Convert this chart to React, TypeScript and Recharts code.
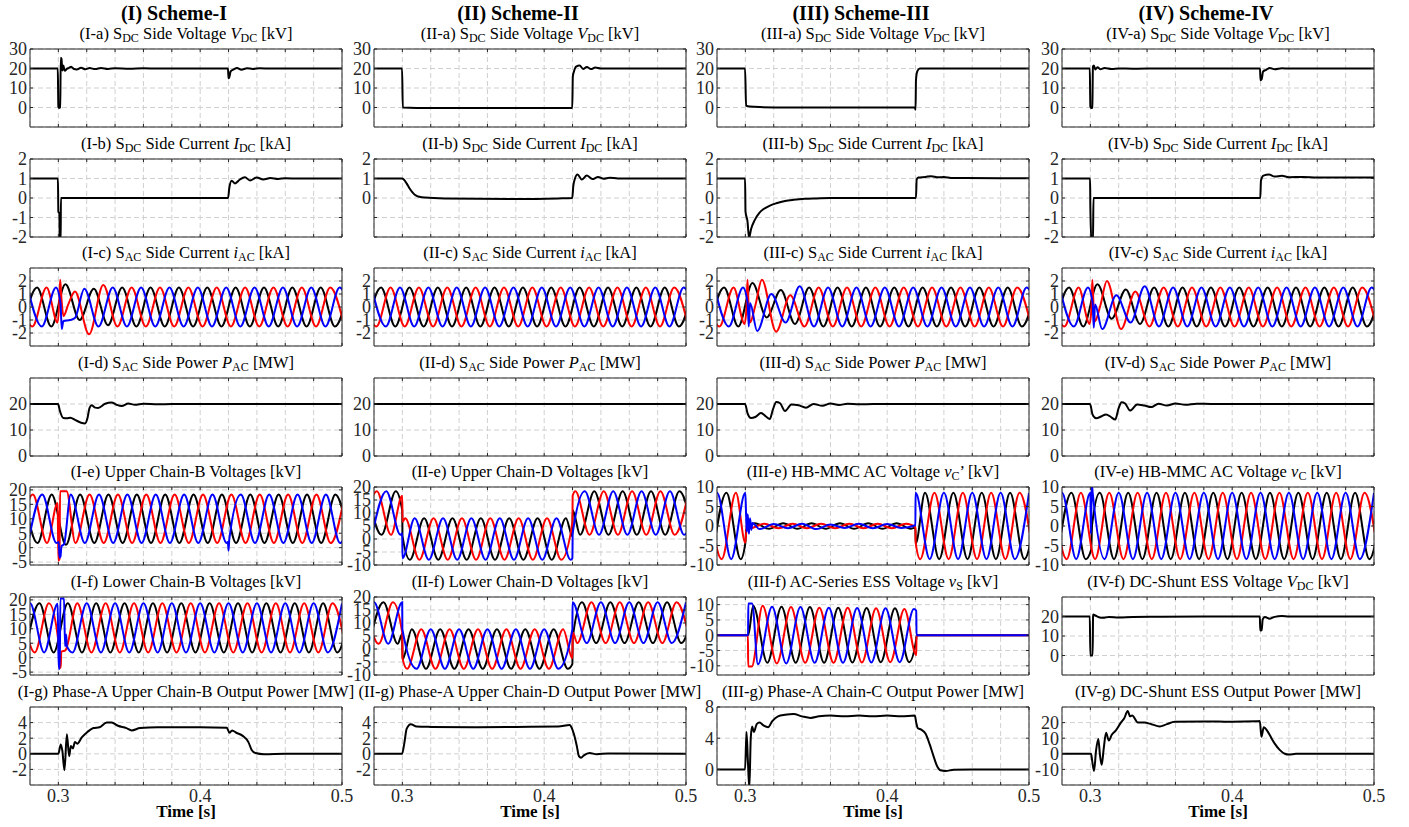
import React from 'react';
import { LineChart, Line, XAxis, YAxis, CartesianGrid } from 'recharts';

// ---------- axes ----------
const TIME_DOMAIN: [number, number] = [0.28, 0.5];
const TIME_TICKS = [0.3, 0.32, 0.34, 0.36, 0.38, 0.4, 0.42, 0.44, 0.46, 0.48, 0.5];
const TIME_LABELS = [0.3, 0.4, 0.5];
const COLUMN_HEADERS = ['(I) Scheme-I', '(II) Scheme-II', '(III) Scheme-III', '(IV) Scheme-IV'];
const COLUMN_IDS = ['I', 'II', 'III', 'IV'];

// sinusoid sample spacing: half of a 50 Hz period (peaks / troughs)
const HALF = 0.01;

type Pair = [number, number];
type Wave = { t0: number; v: (number | null)[]; x?: Pair[] };

// ---------- row a: SDC side voltage ----------
const IA_VDC: Pair[] = [[0.28,20],[0.2996,20],[0.3,0.5],[0.3004,-0.2],[0.3013,0],[0.3017,25.5],[0.3022,25],[0.3028,19],[0.3035,21.5],[0.3045,18.8],[0.306,19.8],[0.3075,20.3],[0.309,20.9],[0.311,19.7],[0.313,19.5],[0.316,20.4],[0.319,19.6],[0.322,20.2],[0.326,19.7],[0.33,20.3],[0.335,19.8],[0.34,20.1],[0.35,19.9],[0.36,20.1],[0.37,20],[0.4196,20],[0.42,15],[0.4205,15.5],[0.4215,18.5],[0.4235,19.5],[0.426,20.3],[0.429,19.4],[0.433,20.1],[0.437,19.8],[0.442,20.1],[0.45,20],[0.5,20]];
const IIA_VDC: Pair[] = [[0.28,20],[0.2998,20],[0.3003,0],[0.31,-0.2],[0.36,-0.25],[0.4198,-0.2],[0.4202,16],[0.421,18.5],[0.4225,21],[0.425,21.5],[0.4275,19.8],[0.43,20.8],[0.433,19.7],[0.436,20.5],[0.44,20],[0.5,20]];
const IIIA_VDC: Pair[] = [[0.28,20],[0.2998,20],[0.3005,1],[0.303,0.5],[0.31,0.2],[0.33,0],[0.4195,0],[0.42,-1.2],[0.4203,14],[0.4212,18.5],[0.423,20],[0.5,20]];
const IVA_VDC: Pair[] = [[0.28,20],[0.2996,20],[0.3,0.5],[0.3006,-0.3],[0.3014,0],[0.3018,21],[0.3025,21.5],[0.3035,19.5],[0.305,20.7],[0.307,19.6],[0.31,20.2],[0.315,19.7],[0.32,20],[0.33,19.9],[0.35,20],[0.4196,20],[0.42,14],[0.4208,14.5],[0.4218,18.5],[0.424,19.3],[0.4265,20.3],[0.43,19.6],[0.435,20.1],[0.44,20],[0.5,20]];

// ---------- row b: SDC side current ----------
const IB_IDC: Pair[] = [[0.28,1],[0.2997,1],[0.3,-0.7],[0.3007,-0.8],[0.301,-2.3],[0.3016,-2.3],[0.3018,0],[0.4197,0],[0.4205,0.5],[0.4222,0.88],[0.4246,0.75],[0.428,0.95],[0.4316,1.06],[0.4351,0.9],[0.4399,1.05],[0.4445,0.95],[0.4495,1.03],[0.455,0.98],[0.46,1.01],[0.47,1],[0.5,1]];
const IIB_IDC: Pair[] = [[0.28,1],[0.2998,1],[0.301,0.95],[0.303,0.75],[0.305,0.5],[0.307,0.3],[0.309,0.15],[0.312,0.06],[0.316,0.02],[0.33,-0.02],[0.38,-0.05],[0.41,-0.02],[0.4198,0],[0.4205,0.6],[0.4215,0.95],[0.4235,1.2],[0.4265,0.95],[0.43,1.15],[0.434,0.97],[0.438,1.08],[0.442,0.99],[0.446,1.04],[0.452,1],[0.5,1]];
const IIIB_IDC: Pair[] = [[0.28,1],[0.2998,1],[0.3001,-0.7],[0.3015,-1.2],[0.3026,-2.05],[0.304,-1.6],[0.3065,-1.15],[0.31,-0.75],[0.3126,-0.58],[0.317,-0.4],[0.3218,-0.27],[0.328,-0.15],[0.334,-0.09],[0.342,-0.04],[0.35,-0.02],[0.36,0],[0.4203,0],[0.4208,0.95],[0.422,1.05],[0.427,1.08],[0.431,1.12],[0.436,1.06],[0.44,1.08],[0.445,1.03],[0.455,1.02],[0.5,1.01]];
const IVB_IDC: Pair[] = [[0.28,1],[0.2998,1],[0.3,-0.5],[0.3008,-2.3],[0.3018,-2.3],[0.3022,0],[0.4198,0],[0.4203,0.9],[0.422,1.15],[0.426,1.2],[0.43,1.1],[0.435,1.14],[0.44,1.07],[0.45,1.08],[0.46,1.05],[0.5,1.05]];

// ---------- row c: SAC side current (three phases) ----------
const IIC_BLACK: Wave = { t0: 0.275, v: [-1.5,1.5,-1.5,1.5,-1.5,1.5,-1.5,1.5,-1.5,1.5,-1.5,1.5,-1.5,1.5,-1.5,1.5,-1.5,1.5,-1.5,1.5,-1.5,1.5,-1.5,1.5] };
const IIC_RED: Wave = { t0: 0.27167, v: [1.5,-1.5,1.5,-1.5,1.5,-1.5,1.5,-1.5,1.5,-1.5,1.5,-1.5,1.5,-1.5,1.5,-1.5,1.5,-1.5,1.5,-1.5,1.5,-1.5,1.5,-1.5] };
const IIC_BLUE: Wave = { t0: 0.27833, v: [1.5,-1.5,1.5,-1.5,1.5,-1.5,1.5,-1.5,1.5,-1.5,1.5,-1.5,1.5,-1.5,1.5,-1.5,1.5,-1.5,1.5,-1.5,1.5,-1.5,1.5,-1.5] };
const IC_BLACK: Wave = { t0: 0.275, v: [-1.5,1.5,-1.5,1.75,-1.0,1.4,-1.4,1.5,-1.5,1.5,-1.5,1.5,-1.5,1.5,-1.5,1.5,-1.5,1.5,-1.5,1.5,-1.5,1.5,-1.5,1.5] };
const IC_RED: Wave = { t0: 0.27167, v: [1.5,-1.5,1.5,null,1.2,-2.1,1.7,-1.5,1.5,-1.5,1.5,-1.5,1.5,-1.5,1.5,-1.5,1.5,-1.5,1.5,-1.5,1.5,-1.5,1.5,-1.5], x: [[0.2995,-1.2],[0.3007,0.5],[0.3013,2.1],[0.3022,0.6],[0.3036,-0.7],[0.307,0.2]] };
const IC_BLUE: Wave = { t0: 0.27833, v: [1.5,-1.5,1.5,-1.0,1.4,-1.5,1.5,-1.5,1.5,-1.5,1.5,-1.5,1.5,-1.5,1.5,-1.5,1.5,-1.5,1.5,-1.5,1.5,-1.5,1.5,-1.5], x: [[0.3015,0.3],[0.3024,-1.7],[0.3035,-1.1],[0.3117,-0.85]] };
const IIIC_BLACK: Wave = { t0: 0.275, v: [-1.5,1.5,-1.5,1.85,-0.8,1.3,-1.3,1.5,-1.5,1.5,-1.5,1.5,-1.5,1.5,-1.5,1.5,-1.5,1.5,-1.5,1.5,-1.5,1.5,-1.5,1.5] };
const IIIC_RED: Wave = { t0: 0.27167, v: [1.5,-1.5,1.5,null,2.1,-1.9,0.9,-1.5,1.5,-1.5,1.5,-1.5,1.5,-1.5,1.5,-1.5,1.5,-1.5,1.5,-1.5,1.5,-1.5,1.5,-1.5], x: [[0.2995,-1.3],[0.3008,0],[0.3015,2.1],[0.3022,0.3],[0.3032,-1.2],[0.307,0.1]] };
const IIIC_BLUE: Wave = { t0: 0.27833, v: [1.5,-1.5,1.5,-1.85,1.0,-1.2,1.6,-1.5,1.5,-1.5,1.5,-1.5,1.5,-1.5,1.5,-1.5,1.5,-1.5,1.5,-1.5,1.5,-1.5,1.5,-1.5], x: [[0.3016,0.3],[0.3024,-1.5],[0.3033,0.3]] };
const IVC_BLACK: Wave = { t0: 0.275, v: [-1.5,1.5,-1.5,1.75,-0.9,1.35,-1.3,1.5,-1.5,1.5,-1.5,1.5,-1.5,1.5,-1.5,1.5,-1.5,1.5,-1.5,1.5,-1.5,1.5,-1.5,1.5] };
const IVC_RED: Wave = { t0: 0.27167, v: [1.5,-1.5,1.5,null,2.0,-1.7,1.2,-1.5,1.5,-1.5,1.5,-1.5,1.5,-1.5,1.5,-1.5,1.5,-1.5,1.5,-1.5,1.5,-1.5,1.5,-1.5], x: [[0.2995,-1.3],[0.3008,0],[0.3014,2.1],[0.3022,0.2],[0.3032,-1.1],[0.307,0.1]] };
const IVC_BLUE: Wave = { t0: 0.27833, v: [1.5,-1.5,1.5,-1.7,0.9,-1.2,1.6,-1.5,1.5,-1.5,1.5,-1.5,1.5,-1.5,1.5,-1.5,1.5,-1.5,1.5,-1.5,1.5,-1.5,1.5,-1.5], x: [[0.3016,0.3],[0.3024,-1.6],[0.3033,0.2]] };

// ---------- row d: SAC side power ----------
const ID_PAC: Pair[] = [[0.28,20],[0.2998,20],[0.301,17.5],[0.3035,14.6],[0.306,14.5],[0.3085,14.7],[0.312,13.8],[0.316,12.8],[0.3188,12.5],[0.3205,14.5],[0.322,18.5],[0.3235,19.5],[0.326,18.6],[0.328,18.5],[0.333,20.1],[0.3375,20.6],[0.341,19.7],[0.3446,19.2],[0.3493,20.2],[0.354,19.7],[0.36,20.1],[0.37,19.9],[0.38,20],[0.5,20]];
const IID_PAC: Pair[] = [[0.28,20],[0.5,20]];
const IIID_PAC: Pair[] = [[0.28,20],[0.2998,20],[0.3015,16.5],[0.304,14.6],[0.307,15],[0.311,16.5],[0.3145,15.2],[0.3172,14.2],[0.3195,18],[0.3218,20.8],[0.3245,20.3],[0.328,17.3],[0.3325,19.8],[0.3375,19.5],[0.3427,18.6],[0.348,20],[0.3543,19.3],[0.36,20.2],[0.366,19.6],[0.372,20.1],[0.38,19.9],[0.39,20],[0.5,20]];
const IVD_PAC: Pair[] = [[0.28,20],[0.2998,20],[0.3015,16],[0.304,14.5],[0.308,15.3],[0.311,16],[0.3145,15],[0.3175,14],[0.32,18.5],[0.322,20.7],[0.3245,20.2],[0.328,17.5],[0.333,19.8],[0.338,19.4],[0.343,18.8],[0.348,20.1],[0.354,19.4],[0.36,20.2],[0.367,19.7],[0.375,20.1],[0.385,20],[0.5,20]];

// ---------- row e ----------
const IE_RED: Wave = { t0: 0.272, v: [1.6,18.4,1.6,null,1.6,18.4,1.6,18.4,1.6,18.4,1.6,18.4,1.6,18.4,1.6,18.4,1.6,18.4,1.6,18.4,1.6,18.4,1.6,18.4], x: [[0.2995,15.5],[0.3,-4.5],[0.3008,-4],[0.3012,19.5],[0.3058,19.5]] };
const IE_BLUE: Wave = { t0: 0.27867, v: [1.6,18.4,1.6,18.4,1.6,18.4,1.6,18.4,1.6,18.4,1.6,18.4,1.6,18.4,1.6,18.4,1.6,18.4,1.6,18.4,1.6,18.4,1.6,18.4], x: [[0.3003,2],[0.3008,-3.5],[0.3015,-3],[0.3022,0.5],[0.304,1.2],[0.4195,2],[0.42,-1],[0.4205,2.8]] };
const IE_BLACK: Wave = { t0: 0.27533, v: [18.4,1.6,18.4,1.0,18.4,1.6,18.4,1.6,18.4,1.6,18.4,1.6,18.4,1.6,18.4,1.6,18.4,1.6,18.4,1.6,18.4,1.6,18.4,1.6] };
const IIE_RED: Wave = { t0: 0.272, v: [1.6,18.4,1.6,8,-8,8,-8,8,-8,8,-8,8,-8,8,-8,18.4,1.6,18.4,1.6,18.4,1.6,18.4,1.6,18.4], x: [[0.2999,16.6],[0.3001,6.6],[0.4199,6.3],[0.4201,16.7]] };
const IIE_BLUE: Wave = { t0: 0.27867, v: [1.6,18.4,1.6,8,-8,8,-8,8,-8,8,-8,8,-8,8,-8,18.4,1.6,18.4,1.6,18.4,1.6,18.4,1.6,18.4], x: [[0.2999,2.2],[0.3001,-7.4],[0.4199,-7.4],[0.4201,2.2]] };
const IIE_BLACK: Wave = { t0: 0.27533, v: [18.4,1.6,18.4,-8,8,-8,8,-8,8,-8,8,-8,8,-8,8,1.6,18.4,1.6,18.4,1.6,18.4,1.6,18.4,1.6], x: [[0.2999,11.1],[0.3001,1.1],[0.4199,1.1],[0.4201,11.1]] };
const IIIE_BLUE: Wave = { t0: 0.27, v: [-8.5,8.5,-8.5,8.5,-0.8,0.5,-0.6,0.6,-0.8,0.4,-0.5,0.6,-0.6,0.5,-0.5,8.5,-8.5,8.5,-8.5,8.5,-8.5,8.5,-8.5,8.5], x: [[0.3005,3],[0.301,-1.5],[0.3017,3],[0.3025,-2],[0.3033,2],[0.3042,-1],[0.305,0.8],[0.4199,0.2]] };
const IIIE_BLACK: Wave = { t0: 0.27667, v: [-8.5,8.5,-8.5,0.7,-0.7,0.7,-0.7,0.7,-0.7,0.7,-0.7,0.7,-0.7,0.7,-0.7,8.5,-8.5,8.5,-8.5,8.5,-8.5,8.5,-8.5,8.5], x: [[0.3,-4.3],[0.3006,-1],[0.4199,-0.4],[0.4201,-4.5]] };
const IIIE_RED: Wave = { t0: 0.27333, v: [8.5,-8.5,8.5,-0.6,0.6,-0.6,0.6,-0.6,0.6,-0.6,0.6,-0.6,0.6,-0.6,0.6,-8.5,8.5,-8.5,8.5,-8.5,8.5,-8.5,8.5,-8.5], x: [[0.3,-4.3],[0.3012,1.2],[0.302,-0.4],[0.4199,-0.3],[0.4201,-4.3]] };
const IVE_BLUE: Wave = { t0: 0.27, v: [-8.5,8.5,-8.5,8.5,-8.5,8.5,-8.5,8.5,-8.5,8.5,-8.5,8.5,-8.5,8.5,-8.5,8.5,-8.5,8.5,-8.5,8.5,-8.5,8.5,-8.5,8.5], x: [[0.3004,-2],[0.301,10.8],[0.3016,8.6]] };
const IVE_BLACK: Wave = { t0: 0.27667, v: [-8.5,8.5,-8.5,8.5,-8.5,8.5,-8.5,8.5,-8.5,8.5,-8.5,8.5,-8.5,8.5,-8.5,8.5,-8.5,8.5,-8.5,8.5,-8.5,8.5,-8.5,8.5], x: [[0.3006,-6],[0.3012,0.3]] };
const IVE_RED: Wave = { t0: 0.27333, v: [8.5,-8.5,8.5,-8.5,8.5,-8.5,8.5,-8.5,8.5,-8.5,8.5,-8.5,8.5,-8.5,8.5,-8.5,8.5,-8.5,8.5,-8.5,8.5,-8.5,8.5,-8.5] };

// ---------- row f ----------
const IF_BLUE: Wave = { t0: 0.27, v: [1.8,18.8,1.8,null,1.8,18.8,1.8,18.8,1.8,18.8,1.8,18.8,1.8,18.8,1.8,18.8,1.8,18.8,1.8,18.8,1.8,18.8,1.8,18.8], x: [[0.2995,18.7],[0.3002,-3.8],[0.301,-3.8],[0.3014,20.5],[0.304,20.5],[0.3047,4],[0.3055,8],[0.306,4]] };
const IF_BLACK: Wave = { t0: 0.27667, v: [1.8,18.8,1.8,18.8,1.8,18.8,1.8,18.8,1.8,18.8,1.8,18.8,1.8,18.8,1.8,18.8,1.8,18.8,1.8,18.8,1.8,18.8,1.8,18.8] };
const IF_RED: Wave = { t0: 0.27333, v: [18.8,1.8,18.8,null,18.8,1.8,18.8,1.8,18.8,1.8,18.8,1.8,18.8,1.8,18.8,1.8,18.8,1.8,18.8,1.8,18.8,1.8,18.8,1.8], x: [[0.3002,5],[0.3008,-3.5],[0.3017,-3.5],[0.302,2],[0.305,2.6]] };
const IIF_BLUE: Wave = { t0: 0.27, v: [2,18,2,7.6,-7.6,7.6,-7.6,7.6,-7.6,7.6,-7.6,7.6,-7.6,7.6,-7.6,18,2.3,18,2.3,18,2.3,18,2.3,18], x: [[0.2999,18],[0.4199,7.6]] };
const IIF_BLACK: Wave = { t0: 0.27667, v: [2,18,2,7.6,-7.6,7.6,-7.6,7.6,-7.6,7.6,-7.6,7.6,-7.6,7.6,-7.6,18,2.3,18,2.3,18,2.3,18,2.3,18], x: [[0.2999,5.8],[0.3001,-4],[0.4199,-5.7],[0.4201,4.2]] };
const IIF_RED: Wave = { t0: 0.27333, v: [18,2,18,-7.6,7.6,-7.6,7.6,-7.6,7.6,-7.6,7.6,-7.6,7.6,-7.6,7.6,2.3,18,2.3,18,2.3,18,2.3,18,2.3], x: [[0.2999,6.2],[0.3001,-3.6],[0.4199,-3.6],[0.4201,6.4]] };
const IIIF_BLACK: Wave = { t0: 0.2755, v: [0,0,0,9.6,-9,9.3,-9,9.2,-9,9,-8.9,8.9,-8.8,8.8,-8.8,0,0,0,0,0,0,0,0,0], x: [[0.302,0],[0.4205,-1.3],[0.4207,0]] };
const IIIF_RED: Wave = { t0: 0.27217, v: [0,0,0,null,9.6,-9.2,9.2,-9,9,-9,9,-8.9,8.8,-8.8,8.6,0,0,0,0,0,0,0,0,0], x: [[0.3018,0],[0.302,-10.2],[0.3045,-10.2],[0.4205,-6.5],[0.4207,0]] };
const IIIF_BLUE: Wave = { t0: 0.27883, v: [0,0,0,-9.5,9.3,-9.2,9.2,-9,9,-9,8.9,-8.9,8.8,-8.8,8.6,0,0,0,0,0,0,0,0,0], x: [[0.3019,0],[0.3021,10.4],[0.3048,10.4],[0.4205,8],[0.4207,0]] };
const IVF_VDC: Pair[] = [[0.28,20],[0.2996,20],[0.3,0],[0.3016,0],[0.3019,20],[0.302,21],[0.3035,20.5],[0.306,19.6],[0.309,19.3],[0.313,19.8],[0.32,19.5],[0.33,19.8],[0.35,19.9],[0.4195,20],[0.4198,12.8],[0.4208,13],[0.4215,18.5],[0.423,19.8],[0.4265,18.9],[0.43,19.8],[0.435,20.2],[0.44,20],[0.5,20]];

// ---------- row g: chain / ESS output power ----------
const IG_P: Pair[] = [[0.28,0],[0.3,0],[0.3017,1.2],[0.3028,0.4],[0.3043,-2.1],[0.306,2.5],[0.3076,-0.3],[0.3088,1],[0.3102,0.7],[0.3117,1.5],[0.3133,1.3],[0.3165,2.1],[0.3205,2.8],[0.3247,3.3],[0.329,3.4],[0.3341,4],[0.3376,4],[0.342,3.6],[0.348,3.3],[0.3517,3.0],[0.3576,3.3],[0.37,3.4],[0.4,3.4],[0.4188,3.35],[0.4206,2.7],[0.4225,3.0],[0.4255,2.7],[0.43,2.3],[0.434,1.5],[0.4363,0.5],[0.439,0.1],[0.445,-0.05],[0.46,0],[0.5,0]];
const IIG_P: Pair[] = [[0.28,0],[0.2998,0],[0.3015,1.5],[0.303,3.2],[0.306,3.8],[0.31,3.5],[0.32,3.45],[0.35,3.4],[0.38,3.45],[0.41,3.5],[0.418,3.7],[0.4195,3.3],[0.421,2.5],[0.423,1],[0.4245,-0.3],[0.426,-0.5],[0.428,-0.2],[0.432,0.1],[0.437,-0.05],[0.445,0.05],[0.5,0]];
const IIIG_P: Pair[] = [[0.28,0],[0.2998,0],[0.3008,4.8],[0.3018,1],[0.3028,-2.4],[0.3038,4],[0.3048,5.5],[0.306,4.8],[0.308,5.8],[0.31,6],[0.313,5.6],[0.316,5.4],[0.319,6.2],[0.323,6.8],[0.328,7],[0.334,7.1],[0.34,6.8],[0.346,6.6],[0.352,6.8],[0.36,6.9],[0.37,6.8],[0.38,6.9],[0.39,6.8],[0.4,6.9],[0.41,6.8],[0.4195,6.9],[0.4205,6],[0.4215,5.3],[0.424,5.1],[0.427,4.6],[0.43,3.2],[0.4325,1.8],[0.435,0.5],[0.4375,-0.1],[0.441,-0.2],[0.447,-0.05],[0.46,0],[0.5,0]];
const IVG_P: Pair[] = [[0.28,0],[0.3005,0],[0.3012,-4],[0.3026,-11],[0.304,2],[0.3056,9.5],[0.3068,-1],[0.308,-7],[0.3095,4],[0.3111,13.5],[0.313,8.5],[0.315,12],[0.318,15],[0.3215,20],[0.324,23],[0.3263,27.5],[0.328,24],[0.3295,24.5],[0.3335,20],[0.338,20],[0.343,19],[0.3489,17.5],[0.354,19],[0.3594,20.5],[0.38,20.7],[0.4,20.6],[0.417,20.8],[0.4195,21],[0.4206,11],[0.4223,17],[0.4245,15],[0.4265,12],[0.428,9.5],[0.43,6.5],[0.4335,2.5],[0.4371,0],[0.44,-0.5],[0.445,0],[0.5,0]];

// ---------- helpers ----------
type Pt = { t: number; y: number };
function fromWave(w: Wave): Pt[] {
  const pts: Pt[] = [];
  w.v.forEach((y, i) => {
    if (y !== null) pts.push({ t: +(w.t0 + HALF * i).toFixed(5), y });
  });
  (w.x || []).forEach(([t, y]) => pts.push({ t, y }));
  pts.sort((a, b) => a.t - b.t);
  return pts;
}
function fromPairs(p: Pair[]): Pt[] {
  return p.map(([t, y]) => ({ t, y }));
}

const BLACK = '#000000';
const RED = '#ff0000';
const BLUE = '#0000ff';
const AX = '#262626';
const FONT = '"Liberation Serif", "Times New Roman", Times, serif';

const Sub = ({ s }: { s: string }) => (
  <span style={{ fontSize: 12, position: 'relative', top: 3 }}>{s}</span>
);

type Series = { color: string; pts: Pt[] };
type PanelDef = {
  title: React.ReactNode;
  domain: [number, number];
  ticks: number[];
  labels?: number[];
  series: Series[];
};

const k = (pts: Pair[]): Series[] => [{ color: BLACK, pts: fromPairs(pts) }];
const three = (b: Wave, r: Wave, u: Wave): Series[] => [
  { color: BLACK, pts: fromWave(b) },
  { color: RED, pts: fromWave(r) },
  { color: BLUE, pts: fromWave(u) },
];

const titleA = (id: string) => (<>({id}-a) S<Sub s="DC" /> Side Voltage <i>V</i><Sub s="DC" /> [kV]</>);
const titleB = (id: string) => (<>({id}-b) S<Sub s="DC" /> Side Current <i>I</i><Sub s="DC" /> [kA]</>);
const titleC = (id: string) => (<>({id}-c) S<Sub s="AC" /> Side Current <i>i</i><Sub s="AC" /> [kA]</>);
const titleD = (id: string) => (<>({id}-d) S<Sub s="AC" /> Side Power <i>P</i><Sub s="AC" /> [MW]</>);

const A_AX = { domain: [-10, 30] as [number, number], ticks: [0, 10, 20, 30] };
const B_AX = { domain: [-2, 2] as [number, number], ticks: [-2, -1, 0, 1, 2] };
const C_AX = { domain: [-3, 3] as [number, number], ticks: [-2, -1, 0, 1, 2] };
const D_AX = { domain: [0, 30] as [number, number], ticks: [0, 10, 20] };

const COLUMNS: PanelDef[][] = [
  [
    { title: titleA('I'), ...A_AX, series: k(IA_VDC) },
    { title: titleB('I'), ...B_AX, series: k(IB_IDC) },
    { title: titleC('I'), ...C_AX, series: three(IC_BLACK, IC_RED, IC_BLUE) },
    { title: titleD('I'), ...D_AX, series: k(ID_PAC) },
    { title: <>(I-e) Upper Chain-B Voltages [kV]</>, domain: [-6, 21], ticks: [-5, 0, 5, 10, 15, 20], series: three(IE_BLACK, IE_RED, IE_BLUE) },
    { title: <>(I-f) Lower Chain-B Voltages [kV]</>, domain: [-6, 21], ticks: [-5, 0, 5, 10, 15, 20], series: three(IF_BLACK, IF_RED, IF_BLUE) },
    { title: <>(I-g) Phase-A Upper Chain-B Output Power [MW]</>, domain: [-4, 6], ticks: [-2, 0, 2, 4], series: k(IG_P) },
  ],
  [
    { title: titleA('II'), ...A_AX, series: k(IIA_VDC) },
    { title: titleB('II'), ...B_AX, labels: [0, 1, 2], series: k(IIB_IDC) },
    { title: titleC('II'), ...C_AX, series: three(IIC_BLACK, IIC_RED, IIC_BLUE) },
    { title: titleD('II'), ...D_AX, series: k(IID_PAC) },
    { title: <>(II-e) Upper Chain-D Voltages [kV]</>, domain: [-10, 20], ticks: [-10, -5, 0, 5, 10, 15, 20], series: three(IIE_BLACK, IIE_RED, IIE_BLUE) },
    { title: <>(II-f) Lower Chain-D Voltages [kV]</>, domain: [-10, 20], ticks: [-10, -5, 0, 5, 10, 15, 20], series: three(IIF_BLACK, IIF_RED, IIF_BLUE) },
    { title: <>(II-g) Phase-A Upper Chain-D Output Power [MW]</>, domain: [-4, 6], ticks: [-2, 0, 2, 4], series: k(IIG_P) },
  ],
  [
    { title: titleA('III'), ...A_AX, series: k(IIIA_VDC) },
    { title: titleB('III'), ...B_AX, series: k(IIIB_IDC) },
    { title: titleC('III'), ...C_AX, series: three(IIIC_BLACK, IIIC_RED, IIIC_BLUE) },
    { title: titleD('III'), ...D_AX, series: k(IIID_PAC) },
    { title: <>(III-e) HB-MMC AC Voltage <i>v</i><Sub s="C" />’ [kV]</>, domain: [-10, 10], ticks: [-10, -5, 0, 5, 10], series: three(IIIE_BLACK, IIIE_RED, IIIE_BLUE) },
    { title: <>(III-f) AC-Series ESS Voltage <i>v</i><Sub s="S" /> [kV]</>, domain: [-13, 12.5], ticks: [-10, -5, 0, 5, 10], series: three(IIIF_BLACK, IIIF_RED, IIIF_BLUE) },
    { title: <>(III-g) Phase-A Chain-C Output Power [MW]</>, domain: [-2, 8], ticks: [0, 4, 8], series: k(IIIG_P) },
  ],
  [
    { title: titleA('IV'), ...A_AX, series: k(IVA_VDC) },
    { title: titleB('IV'), ...B_AX, series: k(IVB_IDC) },
    { title: titleC('IV'), ...C_AX, series: three(IVC_BLACK, IVC_RED, IVC_BLUE) },
    { title: titleD('IV'), ...D_AX, series: k(IVD_PAC) },
    { title: <>(IV-e) HB-MMC AC Voltage <i>v</i><Sub s="C" /> [kV]</>, domain: [-10, 10], ticks: [-10, -5, 0, 5, 10], series: three(IVE_BLACK, IVE_RED, IVE_BLUE) },
    { title: <>(IV-f) DC-Shunt ESS Voltage <i>V</i><Sub s="DC" /> [kV]</>, domain: [-10, 30], ticks: [0, 10, 20], series: k(IVF_VDC) },
    { title: <>(IV-g) DC-Shunt ESS Output Power [MW]</>, domain: [-20, 30], ticks: [-10, 0, 10, 20], series: k(IVG_P) },
  ],
];

// ---------- layout ----------
const PLOT_LEFT = [30, 374, 717, 1062];
const PLOT_TOP = [49, 159, 268, 378, 487, 597, 707];
const PW = 312;
const PH = 78;
const ML = 44;
const MT = 12;
const MR = 18;
const MB = 26;
const TL = 3;

const near = (a: number, b: number) => Math.abs(a - b) < 1e-6;

function renderBottomTick(props: any, showLabel: boolean) {
  const { x, y, payload } = props;
  const v = Number(payload.value);
  const lab = showLabel && TIME_LABELS.some((l) => near(l, v));
  return (
    <g>
      <line x1={x} y1={y} x2={x} y2={y - TL} stroke={AX} strokeWidth={1} />
      {lab ? (
        <text x={x} y={y + 17} textAnchor="middle" fontSize={18} fontFamily={FONT} fill={AX}>
          {String(v)}
        </text>
      ) : null}
    </g>
  );
}
function renderTopTick(props: any) {
  const { x, y } = props;
  return <line x1={x} y1={y} x2={x} y2={y + TL} stroke={AX} strokeWidth={1} />;
}
function renderLeftTick(props: any, labels?: number[]) {
  const { x, y, payload } = props;
  const v = Number(payload.value);
  const lab = !labels || labels.some((l) => near(l, v));
  return (
    <g>
      <line x1={x} y1={y} x2={x + TL} y2={y} stroke={AX} strokeWidth={1} />
      {lab ? (
        <text x={x - 3} y={y} dy="0.35em" textAnchor="end" fontSize={18} fontFamily={FONT} fill={AX}>
          {String(v)}
        </text>
      ) : null}
    </g>
  );
}
function renderRightTick(props: any) {
  const { x, y } = props;
  return <line x1={x} y1={y} x2={x - TL} y2={y} stroke={AX} strokeWidth={1} />;
}

function Panel({ def, left, top, bottomRow }: { def: PanelDef; left: number; top: number; bottomRow: boolean }) {
  return (
    <>
      <div
        style={{
          position: 'absolute',
          left: left + PW / 2 - 220,
          width: 440,
          top: top - 25,
          textAlign: 'center',
          fontSize: 16.5,
          lineHeight: '20px',
          whiteSpace: 'nowrap',
          color: '#000',
        }}
      >
        {def.title}
      </div>
      <div style={{ position: 'absolute', left: left - ML, top: top - MT }}>
        <LineChart
          width={ML + PW + MR}
          height={MT + PH + MB}
          margin={{ top: MT - 1, right: MR - 1, bottom: MB - 1, left: 0 }}
        >
          <CartesianGrid stroke="#d0d0d0" strokeDasharray="5 3" />
          <XAxis
            xAxisId={0}
            dataKey="t"
            type="number"
            domain={TIME_DOMAIN}
            ticks={TIME_TICKS}
            allowDataOverflow
            interval={0}
            height={1}
            tickSize={0}
            tickMargin={0}
            axisLine={{ stroke: AX }}
            tickLine={false}
            tick={(p: any) => renderBottomTick(p, bottomRow)}
          />
          <XAxis
            xAxisId="top"
            orientation="top"
            dataKey="t"
            type="number"
            domain={TIME_DOMAIN}
            ticks={TIME_TICKS}
            allowDataOverflow
            interval={0}
            height={1}
            tickSize={0}
            tickMargin={0}
            axisLine={{ stroke: AX }}
            tickLine={false}
            tick={(p: any) => renderTopTick(p)}
          />
          <YAxis
            yAxisId={0}
            type="number"
            domain={def.domain}
            ticks={def.ticks}
            allowDataOverflow
            interval={0}
            width={ML}
            tickSize={0}
            tickMargin={0}
            axisLine={{ stroke: AX }}
            tickLine={false}
            tick={(p: any) => renderLeftTick(p, def.labels)}
          />
          <YAxis
            yAxisId="right"
            orientation="right"
            type="number"
            domain={def.domain}
            ticks={def.ticks}
            allowDataOverflow
            interval={0}
            width={1}
            tickSize={0}
            tickMargin={0}
            axisLine={{ stroke: AX }}
            tickLine={false}
            tick={(p: any) => renderRightTick(p)}
          />
          {def.series.map((s, i) => (
            <Line
              key={i}
              xAxisId={0}
              yAxisId={0}
              data={s.pts}
              dataKey="y"
              type="monotone"
              stroke={s.color}
              strokeWidth={2}
              dot={false}
              activeDot={false}
              isAnimationActive={false}
            />
          ))}
        </LineChart>
      </div>
    </>
  );
}

export default function App() {
  return (
    <div
      style={{
        position: 'absolute',
        left: 0,
        top: 0,
        width: 1409,
        height: 827,
        background: '#ffffff',
        fontFamily: FONT,
        overflow: 'hidden',
      }}
    >
      {COLUMN_HEADERS.map((h, c) => (
        <div
          key={h}
          style={{
            position: 'absolute',
            left: PLOT_LEFT[c] + PW / 2 - 12 - 150,
            width: 300,
            top: 1,
            textAlign: 'center',
            fontSize: 20,
            fontWeight: 'bold',
            lineHeight: '24px',
            color: '#000',
          }}
        >
          {h}
        </div>
      ))}
      {COLUMNS.map((col, c) =>
        col.map((def, r) => (
          <Panel
            key={COLUMN_IDS[c] + r}
            def={def}
            left={PLOT_LEFT[c]}
            top={PLOT_TOP[r]}
            bottomRow={r === PLOT_TOP.length - 1}
          />
        ))
      )}
      {PLOT_LEFT.map((l, c) => (
        <div
          key={'time' + c}
          style={{
            position: 'absolute',
            left: l + PW / 2 - 60,
            width: 120,
            top: 803,
            textAlign: 'center',
            fontSize: 17,
            fontWeight: 'bold',
            lineHeight: '18px',
            color: '#000',
          }}
        >
          Time [s]
        </div>
      ))}
    </div>
  );
}
